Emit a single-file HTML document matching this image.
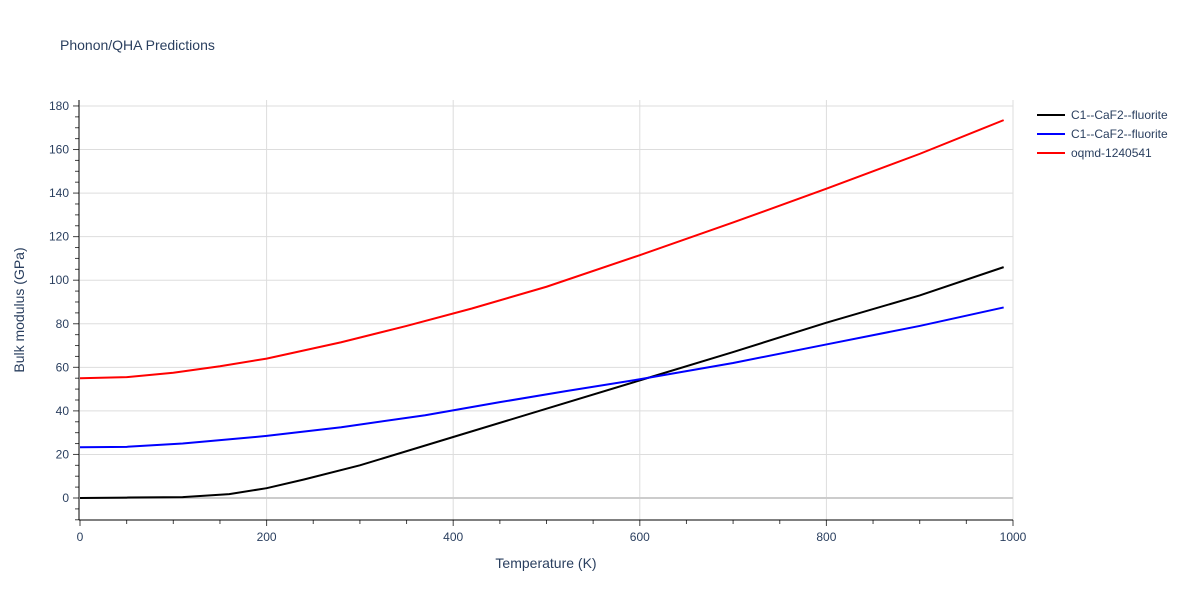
<!DOCTYPE html>
<html><head><meta charset="utf-8"><style>
body{margin:0;background:#fff;font-family:"Liberation Sans",sans-serif}
svg text{font-family:"Liberation Sans",sans-serif;fill:#2a3f5f}
</style></head><body>
<svg id="c" width="1200" height="600">
<text x="60" y="50" font-size="14">Phonon/QHA Predictions</text>
<g id="grid"></g><g id="axes"></g><g id="lines"></g>
<text x="546" y="568" font-size="14" text-anchor="middle">Temperature (K)</text>
<text transform="translate(24,310) rotate(-90)" font-size="14" text-anchor="middle">Bulk modulus (GPa)</text>
<g id="legend"></g>
</svg>
<script>
const temps=[0,50,110,160,200,240,300,400,500,600,700,800,900,990];
const black=[0,0.2,0.4,1.8,4.5,8.5,15,28,41,54,67,80.5,93,106];
const tempsB=[0,50,110,200,280,370,450,520,600,700,800,900,990];
const blue=[23.3,23.5,25,28.5,32.5,38,44,49,54.5,62,70.5,79,87.5];
const tempsR=[0,50,100,150,200,280,350,420,500,600,700,800,900,990];
const red=[55,55.5,57.5,60.5,64,71.5,79,87,97,111.5,126.5,142,158,173.5];
const xTicks=[0,200,400,600,800,1000];
const yTicks=[0,20,40,60,80,100,120,140,160,180];
const names=["C1--CaF2--fluorite","C1--CaF2--fluorite","oqmd-1240541"];
const colors=["#000","#00f","#f00"];
const X=v=>80+v*0.933, Y=v=>498-v*2.178;
const NS="http://www.w3.org/2000/svg";
function mk(p,t,a){const e=document.createElementNS(NS,t);for(const k in a)e.setAttribute(k,a[k]);document.getElementById(p).appendChild(e);return e;}
xTicks.forEach(v=>{if(v>0){const g=mk('grid','line',{x1:X(v),x2:X(v),y1:100,y2:520,stroke:'#ddd'});

}
const t=mk('axes','text',{x:X(v),y:541,'font-size':12,'text-anchor':'middle'});t.textContent=v;

});
for(let v=0;v<=1000;v+=50){mk('axes','line',{x1:X(v),x2:X(v),y1:520,y2:v%200?524:526,stroke:'#444'});}
yTicks.forEach(v=>{const g=mk('grid','line',{x1:80,x2:1013,y1:Y(v),y2:Y(v),stroke:v?'#ddd':'#ccc','stroke-width':v?1:2});


const t=mk('axes','text',{x:69,y:Y(v)+4,'font-size':12,'text-anchor':'end'});t.textContent=v;

});
for(let v=-10;v<=180;v+=5){mk('axes','line',{x1:v%20?75:73,x2:79,y1:Y(v),y2:Y(v),stroke:'#444'});}
mk('axes','line',{x1:79,x2:79,y1:100,y2:520,stroke:'#000'});
mk('axes','line',{x1:79,x2:1013,y1:520,y2:520,stroke:'#000'});
[[temps,black],[tempsB,blue],[tempsR,red]].forEach((s,i)=>{
const p=mk('lines','polyline',{points:s[0].map((t,j)=>X(t)+','+Y(s[1][j])).join(' '),fill:'none',stroke:colors[i],'stroke-width':2});


const l=mk('legend','line',{x1:1037,x2:1065,y1:115+i*19,y2:115+i*19,stroke:colors[i],'stroke-width':2});


const t=mk('legend','text',{x:1071,y:119+i*19,'font-size':12});t.textContent=names[i];

});
</script>
</body></html>
